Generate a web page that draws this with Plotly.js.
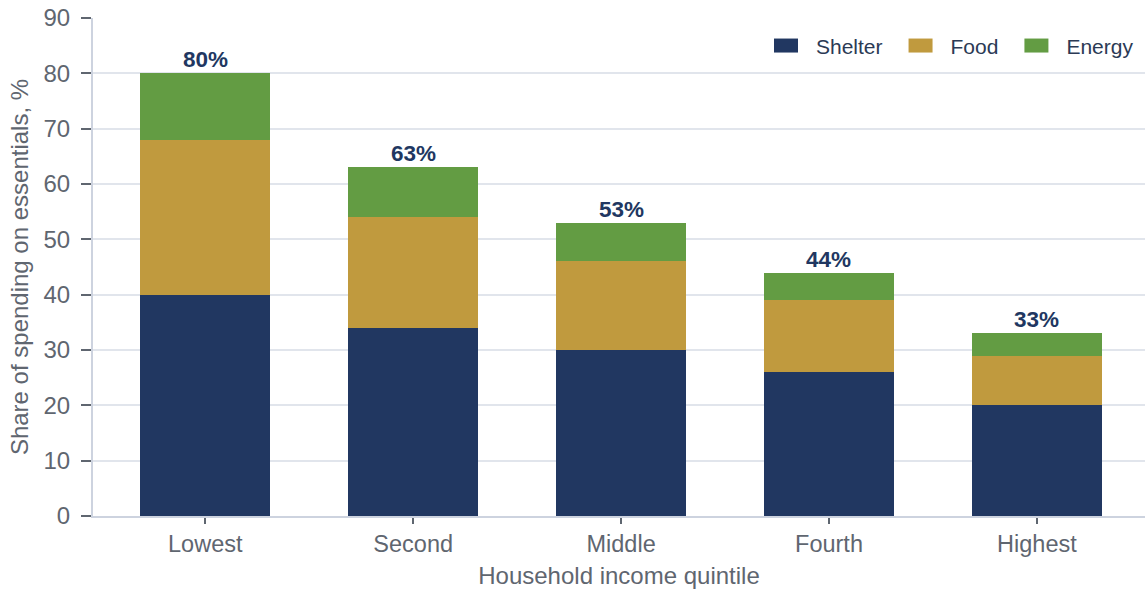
<!DOCTYPE html>
<html>
<head>
<meta charset="utf-8">
<script src="https://cdn.plot.ly/plotly-3.0.1.min.js"></script>
<style>html,body{margin:0;padding:0;background:#fff;}#chart{width:1145px;height:589px;}</style>
</head>
<body>
<div id="chart"></div>
<script>
const categories = ["Lowest", "Second", "Middle", "Fourth", "Highest"];
const shelter = [40, 34, 30, 26, 20];
const food = [28, 20, 16, 13, 9];
const energy = [12, 9, 7, 5, 4];
const totals = [80, 63, 53, 44, 33];

const textColor = "#5f6670";
const font = "Liberation Sans, Arial, sans-serif";

const traces = [
  {name: "Shelter", x: categories, y: shelter, color: "#213761"},
  {name: "Food", x: categories, y: food, color: "#c09a3e"},
  {name: "Energy", x: categories, y: energy, color: "#639c43"}
].map(s => ({
  type: "bar", name: s.name, x: s.x, y: s.y,
  marker: {color: s.color, line: {width: 0}},
  hoverinfo: "skip"
}));

const annotations = categories.map((c, i) => ({
  x: c, y: totals[i], xref: "x", yref: "y",
  text: totals[i] + "%", showarrow: false,
  yanchor: "bottom", yshift: -1,
  font: {family: font, size: 22.5, color: "#213761", weight: "bold"}
}));

const layout = {
  width: 1145, height: 589,
  margin: {l: 93, r: 0, t: 18, b: 73},
  barmode: "stack",
  bargap: 0.375,
  paper_bgcolor: "#fff", plot_bgcolor: "#fff",
  font: {family: font, color: textColor},
  showlegend: true,
  legend: {
    orientation: "h", x: 1, xanchor: "right", y: 0.944, yanchor: "middle",
    font: {family: font, size: 21, color: "#2b3a55"},
    traceorder: "normal", bgcolor: "rgba(255,255,255,0)",
    itemwidth: 30
  },
  xaxis: {
    type: "category", range: [-0.54, 4.52],
    showgrid: false, zeroline: false,
    showline: true, linecolor: "#cdd3df", linewidth: 2,
    ticks: "outside", ticklen: 6, tickwidth: 2, tickcolor: "#5f6670",
    tickfont: {family: font, size: 23.5, color: textColor},
    title: {text: "Household income quintile", font: {family: font, size: 24, color: textColor}, standoff: 11}
  },
  yaxis: {
    range: [0, 90], dtick: 10,
    showgrid: true, gridcolor: "#e1e5ec", gridwidth: 2,
    zeroline: false,
    showline: true, linecolor: "#cdd3df", linewidth: 2,
    ticks: "outside", ticklen: 10, tickwidth: 2, tickcolor: "#5f6670",
    ticklabelstandoff: 6,
    tickfont: {family: font, size: 24, color: textColor},
    title: {text: "Share of spending on essentials, %", font: {family: font, size: 24, color: textColor}, standoff: 8}
  },
  annotations: annotations
};

Plotly.newPlot("chart", traces, layout, {displayModeBar: false, staticPlot: true}).then(gd => {
  gd.querySelectorAll(".legend [clip-path]").forEach(e => e.removeAttribute("clip-path"));
  gd.querySelectorAll(".legendpoints path").forEach(p => p.setAttribute("d", "M2,7H-22V-7H2Z"));
  const items = gd.querySelectorAll(".legend .traces");
  const n = items.length;
  items.forEach((g, i) => {
    const dx = (i - (n - 1)) * 23 - 6;
    const t = g.getAttribute("transform") || "";
    g.setAttribute("transform", t + " translate(" + dx + ",0)");
  });
});
</script>
</body>
</html>
